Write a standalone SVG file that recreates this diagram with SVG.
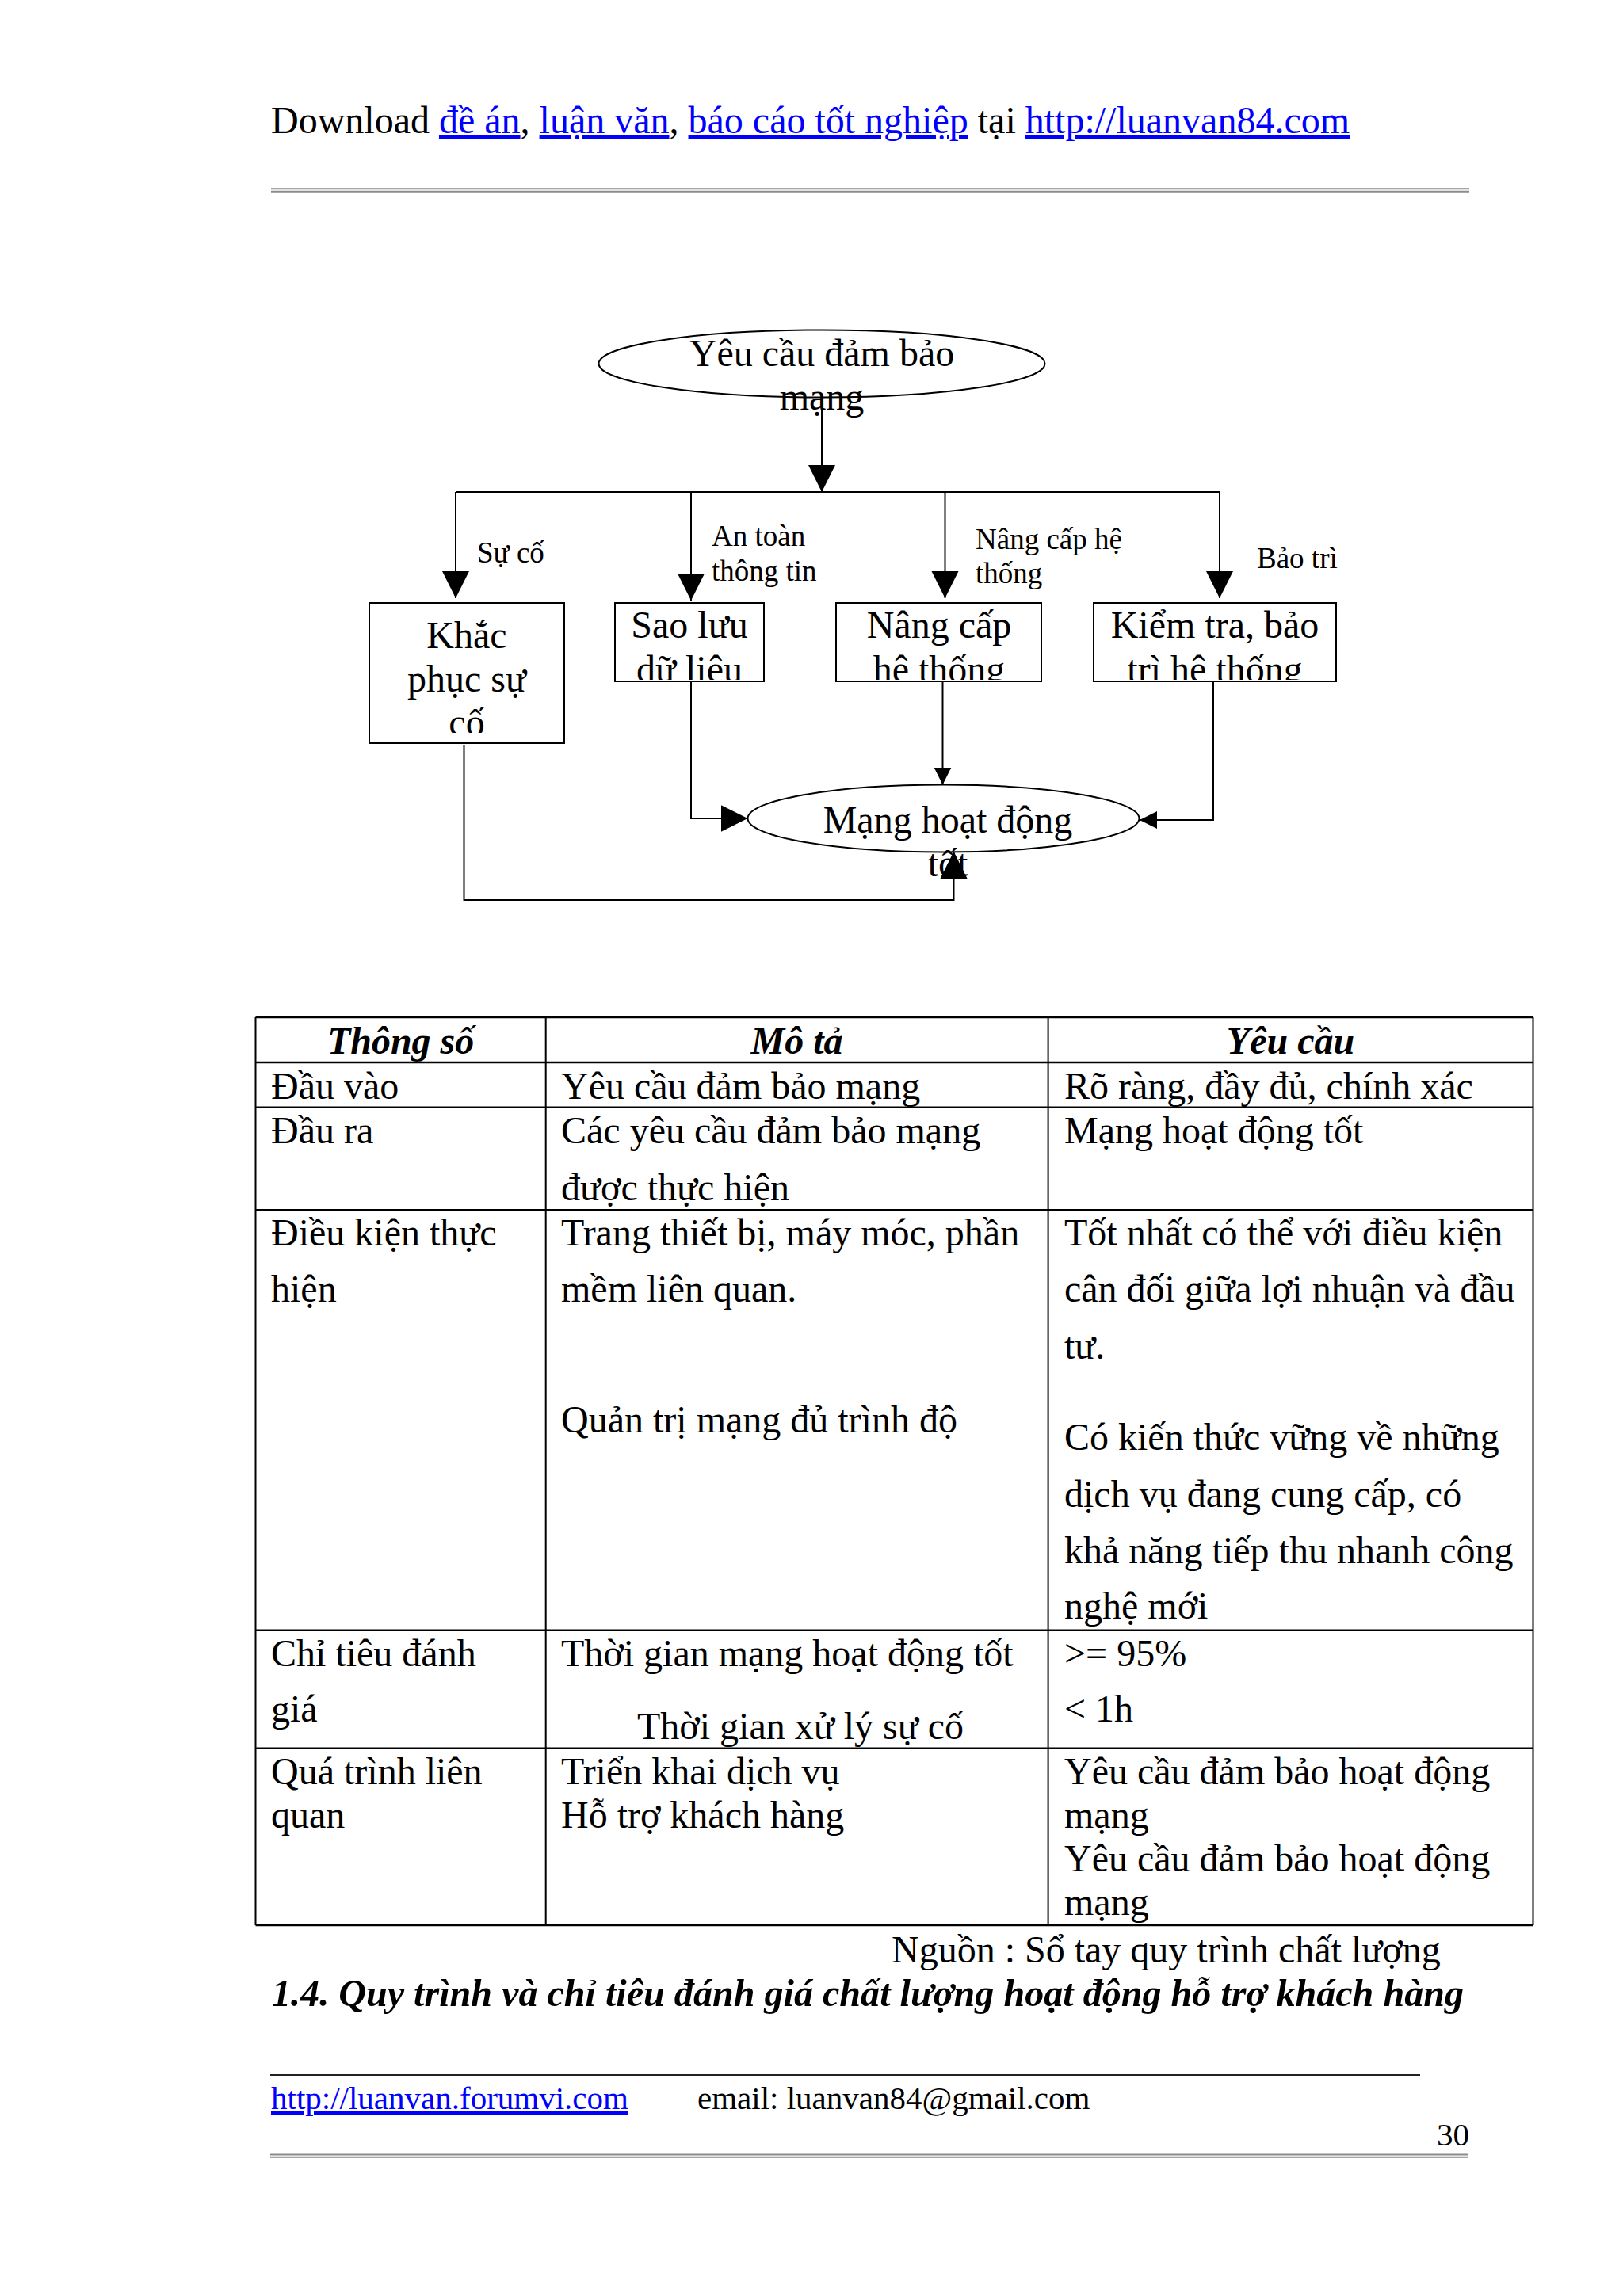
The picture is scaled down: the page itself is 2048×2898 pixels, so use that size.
<svg xmlns="http://www.w3.org/2000/svg" width="2048" height="2898" viewBox="0 0 2048 2898">
<style>
.t{font-family:"Liberation Serif","Times New Roman",serif;font-size:48px;fill:#000}
.lb{font-size:37px}
.ft{font-size:41px}
.bi{font-weight:bold;font-style:italic}
.lk{fill:#0000ff;text-decoration:underline}
.c{text-anchor:middle}
.ln{stroke:#000;stroke-width:2;fill:none}
.nd{stroke:#000;stroke-width:2;fill:#fff}
.tb{stroke:#000;stroke-width:2;fill:none}
.th{stroke:#000;stroke-width:2.5;fill:none}
.gr{stroke:#8a8a8a;stroke-width:2;fill:none}
</style>
<defs>
<marker id="big" markerUnits="userSpaceOnUse" markerWidth="35" markerHeight="35" refX="34" refY="17" orient="auto"><path d="M0,0 L34,17 L0,34 Z" fill="#000"/></marker>
<marker id="small" markerUnits="userSpaceOnUse" markerWidth="23" markerHeight="23" refX="22" refY="11" orient="auto"><path d="M0,0 L22,11 L0,22 Z" fill="#000"/></marker>
<clipPath id="cKhac"><rect x="466" y="761" width="246" height="164"/></clipPath>
<clipPath id="cSao"><rect x="776" y="761" width="188" height="97"/></clipPath>
<clipPath id="cNang"><rect x="1055" y="761" width="259" height="97"/></clipPath>
<clipPath id="cKiem"><rect x="1380" y="761" width="306" height="97"/></clipPath>
</defs>
<rect width="2048" height="2898" fill="#fff"/>

<g id="page-header">
<text class="t" x="342" y="168">Download <tspan class="lk">đề án</tspan>, <tspan class="lk">luận văn</tspan>, <tspan class="lk">báo cáo tốt nghiệp</tspan> tại <tspan class="lk">http://luanvan84.com</tspan></text>
<line class="gr" x1="342" y1="238.3" x2="1854" y2="238.3"/>
<line class="gr" x1="342" y1="241.7" x2="1854" y2="241.7"/>
</g>

<g id="connectors">
<path class="ln" d="M1037,501.5 V621" marker-end="url(#big)"/>
<path class="ln" d="M575,621 H1539"/>
<path class="ln" d="M575,621 V755" marker-end="url(#big)"/>
<path class="ln" d="M872,621 V758" marker-end="url(#big)"/>
<path class="ln" d="M1192.5,621 V755" marker-end="url(#big)"/>
<path class="ln" d="M1539,621 V755" marker-end="url(#big)"/>
<path class="ln" d="M872,860 V1033 H943.5" marker-end="url(#big)"/>
<path class="ln" d="M1189.5,860 V990.5" marker-end="url(#small)"/>
<path class="ln" d="M1531,860 V1035 H1438" marker-end="url(#small)"/>
<path class="ln" d="M585.5,940 V1136 H1203.5 V1075.5" marker-end="url(#big)"/>
<text class="t lb" x="602" y="710">Sự cố</text>
<text class="t lb" x="898" y="689">An toàn</text>
<text class="t lb" x="898" y="733">thông tin</text>
<text class="t lb" x="1231" y="693">Nâng cấp hệ</text>
<text class="t lb" x="1231" y="736">thống</text>
<text class="t lb" x="1586" y="717">Bảo trì</text>
</g>

<g id="node-yeucau">
<ellipse class="nd" cx="1037" cy="459" rx="281.5" ry="42.5"/>
<text class="t c" x="1037" y="462">Yêu cầu đảm bảo</text>
<text class="t c" x="1037" y="517">mạng</text>
</g>

<g id="node-khacphuc">
<rect class="nd" x="466" y="761" width="246" height="177"/>
<g clip-path="url(#cKhac)">
<text class="t c" x="589" y="818">Khắc</text>
<text class="t c" x="589" y="873">phục sự</text>
<text class="t c" x="589" y="928">cố</text>
</g>
</g>

<g id="node-saoluu">
<rect class="nd" x="776" y="761" width="188" height="99"/>
<g clip-path="url(#cSao)">
<text class="t c" x="870" y="805">Sao lưu</text>
<text class="t c" x="870" y="861">dữ liệu</text>
</g>
</g>

<g id="node-nangcap">
<rect class="nd" x="1055" y="761" width="259" height="99"/>
<g clip-path="url(#cNang)">
<text class="t c" x="1185" y="805">Nâng cấp</text>
<text class="t c" x="1185" y="861">hệ thống</text>
</g>
</g>

<g id="node-kiemtra">
<rect class="nd" x="1380" y="761" width="306" height="99"/>
<g clip-path="url(#cKiem)">
<text class="t c" x="1533" y="805">Kiểm tra, bảo</text>
<text class="t c" x="1533" y="861">trì hệ thống</text>
</g>
</g>

<g id="node-manghoatdong">
<ellipse class="nd" cx="1190.5" cy="1033" rx="247" ry="42.5"/>
<text class="t c" x="1196" y="1051">Mạng hoạt động</text>
<text class="t c" x="1196" y="1106">tốt</text>
<path d="M1203.5,1075 L1220.5,1109 L1186.5,1109 Z" fill="#000"/>
</g>

<g id="table">
<line class="th" x1="322.5" y1="1284" x2="1934.5" y2="1284"/>
<line class="th" x1="322.5" y1="1341" x2="1934.5" y2="1341"/>
<line class="th" x1="322.5" y1="1397.7" x2="1934.5" y2="1397.7"/>
<line class="th" x1="322.5" y1="1527.3" x2="1934.5" y2="1527.3"/>
<line class="th" x1="322.5" y1="2057.7" x2="1934.5" y2="2057.7"/>
<line class="th" x1="322.5" y1="2206.7" x2="1934.5" y2="2206.7"/>
<line class="th" x1="322.5" y1="2430" x2="1934.5" y2="2430"/>
<line class="tb" x1="322.5" y1="1284" x2="322.5" y2="2430"/>
<line class="tb" x1="688.7" y1="1284" x2="688.7" y2="2430"/>
<line class="tb" x1="1322.6" y1="1284" x2="1322.6" y2="2430"/>
<line class="tb" x1="1934.5" y1="1284" x2="1934.5" y2="2430"/>

<text class="t bi c" x="505.6" y="1330">Thông số</text>
<text class="t bi c" x="1005.6" y="1330">Mô tả</text>
<text class="t bi c" x="1628.5" y="1330">Yêu cầu</text>

<text class="t" x="342" y="1387">Đầu vào</text>
<text class="t" x="708" y="1387">Yêu cầu đảm bảo mạng</text>
<text class="t" x="1343" y="1387">Rõ ràng, đầy đủ, chính xác</text>

<text class="t" x="342" y="1443">Đầu ra</text>
<text class="t" x="708" y="1443">Các yêu cầu đảm bảo mạng</text>
<text class="t" x="708" y="1515">được thực hiện</text>
<text class="t" x="1343" y="1443">Mạng hoạt động tốt</text>

<text class="t" x="342" y="1572">Điều kiện thực</text>
<text class="t" x="342" y="1643">hiện</text>
<text class="t" x="708" y="1572">Trang thiết bị, máy móc, phần</text>
<text class="t" x="708" y="1643">mềm liên quan.</text>
<text class="t" x="708" y="1808">Quản trị mạng đủ trình độ</text>
<text class="t" x="1343" y="1572">Tốt nhất có thể với điều kiện</text>
<text class="t" x="1343" y="1643">cân đối giữa lợi nhuận và đầu</text>
<text class="t" x="1343" y="1715">tư.</text>
<text class="t" x="1343" y="1830">Có kiến thức vững về những</text>
<text class="t" x="1343" y="1902">dịch vụ đang cung cấp, có</text>
<text class="t" x="1343" y="1973">khả năng tiếp thu nhanh công</text>
<text class="t" x="1343" y="2043">nghệ mới</text>

<text class="t" x="342" y="2103">Chỉ tiêu đánh</text>
<text class="t" x="342" y="2173">giá</text>
<text class="t" x="708" y="2103">Thời gian mạng hoạt động tốt</text>
<text class="t" x="804" y="2195">Thời gian xử lý sự cố</text>
<text class="t" x="1343" y="2103">&gt;= 95%</text>
<text class="t" x="1343" y="2173">&lt; 1h</text>

<text class="t" x="342" y="2252">Quá trình liên</text>
<text class="t" x="342" y="2307">quan</text>
<text class="t" x="708" y="2252">Triển khai dịch vụ</text>
<text class="t" x="708" y="2307">Hỗ trợ khách hàng</text>
<text class="t" x="1343" y="2252">Yêu cầu đảm bảo hoạt động</text>
<text class="t" x="1343" y="2307">mạng</text>
<text class="t" x="1343" y="2362">Yêu cầu đảm bảo hoạt động</text>
<text class="t" x="1343" y="2417">mạng</text>
</g>

<g id="caption">
<text class="t" x="1125" y="2477">Nguồn : Sổ tay quy trình chất lượng</text>
<text class="t bi" x="343" y="2532" textLength="1504" lengthAdjust="spacingAndGlyphs">1.4. Quy trình và chỉ tiêu đánh giá chất lượng hoạt động hỗ trợ khách hàng</text>
</g>

<g id="page-footer">
<line x1="341" y1="2619" x2="1792" y2="2619" stroke="#222" stroke-width="2"/>
<text class="t ft lk" x="342" y="2662">http://luanvan.forumvi.com</text>
<text class="t ft" x="880" y="2662">email: luanvan84@gmail.com</text>
<text class="t ft" x="1813" y="2708">30</text>
<line class="gr" x1="341" y1="2719.5" x2="1853" y2="2719.5"/>
<line class="gr" x1="341" y1="2722.7" x2="1853" y2="2722.7"/>
</g>
</svg>
